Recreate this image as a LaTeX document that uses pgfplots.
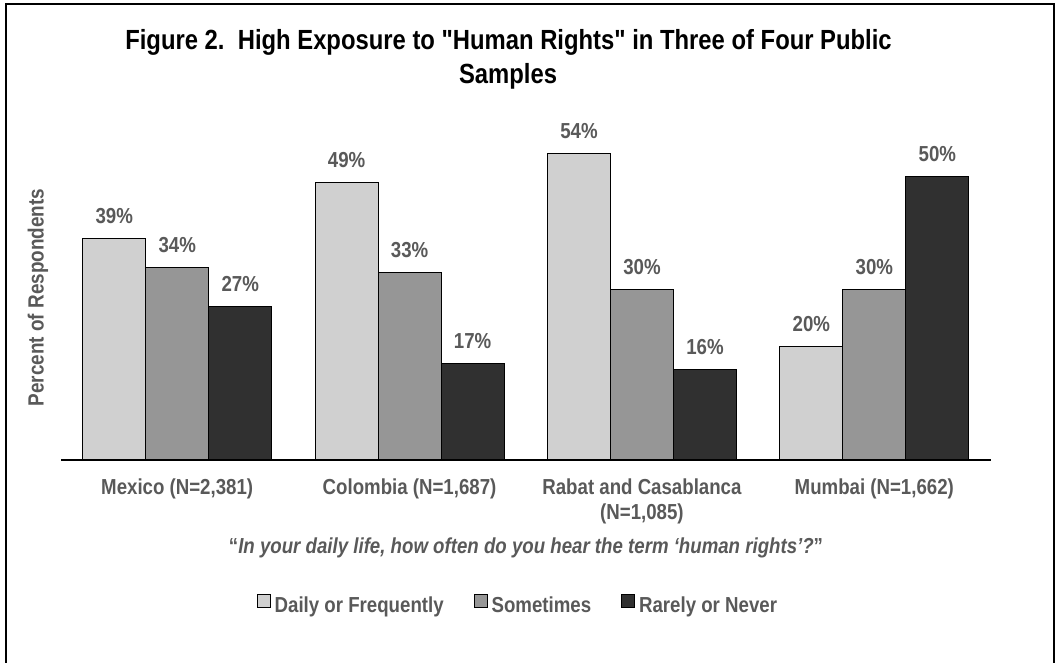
\documentclass[border=0pt]{standalone}
\usepackage{pgfplots}
\pgfplotsset{compat=1.18}
\usepackage{fontspec}
\setmainfont{Liberation Sans}[FakeStretch=0.86, Ligatures=TeXOff]
\definecolor{cLight}{HTML}{D0D0D0}
\definecolor{cMid}{HTML}{969696}
\definecolor{cDark}{HTML}{303030}
\definecolor{txt}{HTML}{595959}
\newcommand{\lab}{\fontsize{21.7}{25}\selectfont\bfseries}
\begin{document}
\begin{tikzpicture}[x=1pt,y=1pt]
\useasboundingbox (0,0) rectangle (1056,663);
\draw[line width=1.5pt] (6,-5) -- (6,659) -- (1054,659) -- (1054,-5);
\node[font=\fontsize{27.7}{33}\selectfont\bfseries, anchor=base] at (508.5,613) {Figure 2.\ \ High Exposure to "Human Rights" in Three of Four Public};
\node[font=\fontsize{27.7}{33}\selectfont\bfseries, anchor=base] at (508,579) {Samples};
\node[font=\fontsize{22}{25}\selectfont\bfseries, text=txt, rotate=90] at (38,365.5) {Percent of Respondents};
\node[font=\lab, text=txt, anchor=base] at (526,109) {“\textit{In your daily life, how often do you hear the term ‘human rights’?}”};
\begin{scope}[shift={(61pt,203pt)}]
\begin{axis}[
  at={(0pt,0pt)}, anchor=south west,
  scale only axis, width=929.5pt, height=340pt,
  ymin=0, ymax=60, xmin=-0.5, xmax=3.5,
  axis x line*=bottom, axis y line=none,
  x axis line style={line width=1.8pt, black},
  xtick={0,1,2,3},
  xticklabels={{Mexico (N=2,381)},{Colombia (N=1,687)},{Rabat and Casablanca\\(N=1,085)},{Mumbai (N=1,662)}},
  major tick length=0pt,
  xticklabel style={font=\lab, text=txt, align=center, anchor=north, inner sep=0pt, yshift=-19pt},
  ybar, bar width=63pt,
  /pgf/number format/assume math mode=true,
  nodes near coords={\pgfmathprintnumber{\pgfplotspointmeta}\%},
  every node near coord/.append style={font=\lab, text=txt, anchor=base, yshift=15pt},
  legend columns=-1,
  legend cell align=left,
  legend style={at={(axis description cs:0.4905,-0.4247)}, anchor=center, draw=none, font=\lab, text=txt,
     nodes={inner sep=0pt},
     /tikz/every odd column/.append style={column sep=4pt},
     /tikz/every even column/.append style={column sep=30pt}},
  legend image code/.code={\draw[#1, line width=0.9pt] (0pt,-2pt) rectangle (13pt,11pt);},
]
\addplot[fill=cLight, draw=black, line width=1pt, bar shift=-63pt] coordinates {(0,39) (1,49) (2,54) (3,20)};
\addplot[fill=cMid, draw=black, line width=1pt, bar shift=0pt] coordinates {(0,34) (1,33) (2,30) (3,30)};
\addplot[fill=cDark, draw=black, line width=1pt, bar shift=63pt] coordinates {(0,27) (1,17) (2,16) (3,50)};
\legend{Daily or Frequently, Sometimes, Rarely or Never}
\end{axis}
\end{scope}
\end{tikzpicture}
\end{document}
